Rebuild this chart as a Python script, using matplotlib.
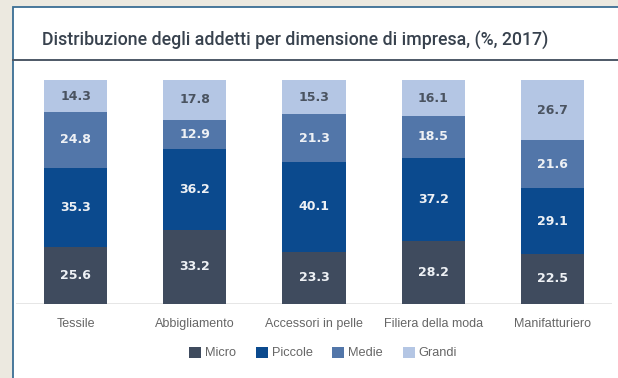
import numpy as np
import matplotlib
matplotlib.use("Agg")
import matplotlib.pyplot as plt
from matplotlib.patches import Rectangle
from matplotlib.lines import Line2D

# data
categories = ['Tessile', 'Abbigliamento', 'Accessori in pelle', 'Filiera della moda', 'Manifatturiero']
series_names = ['Micro', 'Piccole', 'Medie', 'Grandi']
micro = [25.6, 33.2, 23.3, 28.2, 22.5]
piccole = [35.3, 36.2, 40.1, 37.2, 29.1]
medie = [24.8, 12.9, 21.3, 18.5, 21.6]
grandi = [14.3, 17.8, 15.3, 16.1, 26.7]

colors = ['#3f4b5e', '#0b4a8e', '#5276a9', '#b4c6e4']
text_colors = ['#eef1f5', '#eef1f5', '#eef1f5', '#4a5360']

W, H = 618, 378
fig = plt.figure(figsize=(W / 100, H / 100), dpi=100)
fig.patch.set_facecolor('#ece9e0')

# white card with border
fig.patches.append(Rectangle((13 / W, -0.05), 1, 1.05 - 7 / H, transform=fig.transFigure,
                             facecolor='white', edgecolor='#3a6e94', linewidth=1.3, zorder=-5))
fig.lines.append(Line2D([13 / W, 1], [1 - 60 / H, 1 - 60 / H], transform=fig.transFigure,
                        color='#4d5866', linewidth=1.4, zorder=-4))
fig.text(42 / W, 1 - 40 / H, 'Distribuzione degli addetti per dimensione di impresa, (%, 2017)',
         fontsize=12.8, family='Roboto', fontweight='medium', color='#38424e', va='center', ha='left')

ax = fig.add_axes([16 / W, 74 / H, 596 / W, 224 / H])
x = np.arange(len(categories))
bottom = np.zeros(len(categories))
for name, vals, c, tc in zip(series_names, [micro, piccole, medie, grandi], colors, text_colors):
    vals = np.array(vals)
    ax.bar(x, vals, width=0.53, bottom=bottom, color=c, label=name, zorder=2)
    for xi, b, v in zip(x, bottom, vals):
        ax.text(xi, b + v / 2, f'{v:.1f}', ha='center', va='center', fontsize=9,
                fontweight='bold', color=tc, family='DejaVu Sans', zorder=3)
    bottom += vals

ax.set_xlim(-0.5, 4.5)
ax.set_ylim(0, 100)
ax.axhline(0, color='#e2e2e2', linewidth=1.2, zorder=1)
for s in ax.spines.values():
    s.set_visible(False)
ax.set_yticks([])
ax.set_xticks(x)
ax.set_xticklabels(categories, fontsize=9, color='#666666', family='Liberation Sans')
ax.tick_params(axis='x', length=0, pad=10)
ax.patch.set_alpha(0)

fig.legend(loc='center', bbox_to_anchor=(323 / W, 1 - 353 / H), ncol=4, frameon=False,
           handlelength=0.95, handleheight=0.95, handletextpad=0.3, columnspacing=1.55,
           prop={'family': 'Liberation Sans', 'size': 9.2}, labelcolor='#666666')

fig.savefig('out.png', dpi=100)
